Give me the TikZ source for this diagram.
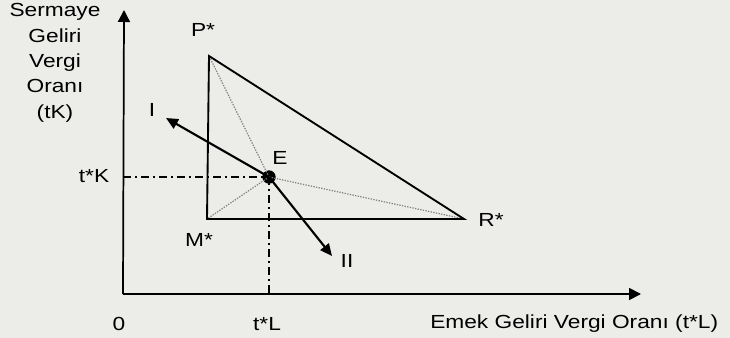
\documentclass[tikz,border=0pt]{standalone}
\usepackage{fontspec}
\setmainfont{Liberation Sans}[FakeStretch=1.2]
\usetikzlibrary{positioning, arrows.meta, calc}
\definecolor{paper}{RGB}{236,236,233}

\begin{document}
\begin{tikzpicture}[x=0.75pt, y=-0.75pt, font=\fontsize{14.2}{19}\selectfont]
\fill[paper] (0,0) rectangle (730,338);
\useasboundingbox (0,0) rectangle (730,338);
\coordinate (O) at (123,294);
\coordinate (xend) at (641,294);
\coordinate (yend) at (124,10);
\coordinate (P) at (209,56);
\coordinate (M) at (207,219);
\coordinate (R) at (464,219);
\coordinate (Iend) at (166,118);
\coordinate (IIend) at (332,256);
\node[circle, fill=black, inner sep=0pt, minimum size=10pt] (E) at (269,177) {};
\coordinate (tK) at (O |- E);
\coordinate (tL) at (E |- O);

\draw[-{Triangle[length=9pt, width=9pt]}, line width=1.3pt] (O) -- (yend);
\draw[-{Triangle[length=9pt, width=9pt]}, line width=1.3pt] (O) -- (xend);

\draw[gray, line width=0.9pt, dash pattern=on 1pt off 1pt] (E.center) -- (P);
\draw[gray, line width=0.9pt, dash pattern=on 1pt off 1pt] (E.center) -- (M);
\draw[gray, line width=0.9pt, dash pattern=on 1pt off 1pt] (E.center) -- (R);
\draw[line width=1.4pt, line join=miter] (P) -- (M) -- (R) -- cycle;

\draw[line width=1pt, dash pattern=on 6pt off 3pt on 1.5pt off 3pt] (tK) -- (E.center);
\draw[line width=1pt, dash pattern=on 6pt off 3pt on 1.5pt off 3pt] (E.center) -- (tL);

\draw[-{Triangle[length=9pt, width=8pt]}, line width=1.6pt] (E.center) -- (Iend);
\draw[-{Triangle[length=9pt, width=8pt]}, line width=1.6pt] (E.center) -- (IIend);

\node (Plabel) at (203,30) {P*};
\node (Mlabel) at (199,240) {M*};
\node (Rlabel) at (491,220) {R*};
\node (Elabel) at (280,158) {E};
\node (Ilabel) at (152,110) {I};
\node (IIlabel) at (347,261) {II};
\node (tKlabel) at (94,176) {t*K};
\node (tLlabel) at (267,324) {t*L};
\node (zero) at (119,324) {0};
\node[anchor=west, inner sep=0pt] (xlabel) at (430,324) {Emek Geliri Vergi Oranı (t*L)};
\node[align=center, inner sep=0pt] (ylabel) at (55,63) {Sermaye\\Geliri\\Vergi\\Oranı\\(tK)};
\end{tikzpicture}
\end{document}
